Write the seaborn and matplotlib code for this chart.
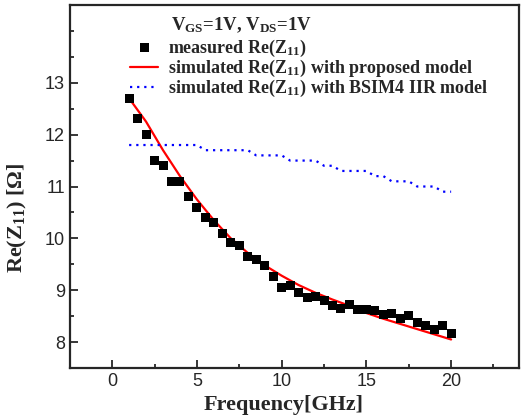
import numpy as np
import pandas as pd
import matplotlib
matplotlib.use('Agg')
import matplotlib.pyplot as plt
import seaborn as sns
from matplotlib.ticker import MultipleLocator

# 측정 데이터 (0.5 GHz 간격)
freq_meas = [1, 1.5, 2, 2.5, 3, 3.5, 4, 4.5, 5, 5.5, 6, 6.5, 7, 7.5, 8, 8.5, 9, 9.5, 10,
             10.5, 11, 11.5, 12, 12.5, 13, 13.5, 14, 14.5, 15, 15.5, 16, 16.5, 17, 17.5,
             18, 18.5, 19, 19.5, 20]
re_meas = [12.69, 12.31, 12.0, 11.5, 11.4, 11.1, 11.1, 10.8, 10.6, 10.4, 10.3, 10.1, 9.92,
           9.87, 9.65, 9.6, 9.47, 9.27, 9.05, 9.1, 8.95, 8.85, 8.88, 8.8, 8.7, 8.64, 8.72,
           8.62, 8.62, 8.6, 8.54, 8.55, 8.45, 8.51, 8.37, 8.31, 8.25, 8.31, 8.16]

# 제안 모델 (1 GHz 간격)
freq_model = list(range(1, 21))
re_model = [12.7, 12.25, 11.7, 11.2, 10.75, 10.35, 10.0, 9.72, 9.48, 9.28, 9.1, 8.95,
            8.82, 8.7, 8.56, 8.45, 8.35, 8.25, 8.15, 8.05]

# BSIM4 IIR 모델
freq_bsim = freq_meas
re_bsim = [11.8] * 9 + [11.7] * 6 + [11.6] * 4 + [11.5] * 4 + [11.4] * 2 + [11.3] * 4 \
          + [11.2] * 2 + [11.1] * 3 + [11.0] * 3 + [10.9] * 2

meas_df = pd.DataFrame({'freq': freq_meas, 're': re_meas})
model_df = pd.DataFrame({'freq': freq_model, 're': re_model})
bsim_df = pd.DataFrame({'freq': freq_bsim, 're': re_bsim})

sns.set_style('ticks')
plt.rcParams['font.family'] = ['Liberation Sans', 'DejaVu Sans']
plt.rcParams['mathtext.fontset'] = 'custom'
plt.rcParams['mathtext.rm'] = 'Liberation Serif:bold'
plt.rcParams['mathtext.bf'] = 'Liberation Serif:bold'
plt.rcParams['mathtext.it'] = 'Liberation Serif:bold'

fig = plt.figure(figsize=(5.21, 4.17), dpi=100)
ax = fig.add_axes([0.134, 0.1175, 0.862, 0.8705])

sns.scatterplot(data=meas_df, x='freq', y='re', marker='s', s=42, color='black',
                edgecolor='none', ax=ax, label=r'measured Re(Z$_{11}$)', zorder=3)
sns.lineplot(data=model_df, x='freq', y='re', color='#ff0000', lw=1.6, ax=ax,
             label=r'simulated Re(Z$_{11}$) with proposed model')
sns.lineplot(data=bsim_df, x='freq', y='re', color='#0000ff', lw=1.6,
             linestyle=(0, (1, 2.2)), ax=ax,
             label=r'simulated Re(Z$_{11}$) with BSIM4 IIR model')

ax.set_xlim(-2.5, 24)
ax.set_ylim(7.5, 14.5)
ax.xaxis.set_major_locator(MultipleLocator(5))
ax.xaxis.set_minor_locator(MultipleLocator(2.5))
ax.yaxis.set_major_locator(MultipleLocator(1))
ax.yaxis.set_minor_locator(MultipleLocator(0.5))
ax.set_yticks([8, 9, 10, 11, 12, 13])
ax.tick_params(which='both', direction='in', top=False, right=False, labelsize=13, width=1.3)
ax.tick_params(which='major', length=6)
ax.tick_params(which='minor', length=3)
for sp in ax.spines.values():
    sp.set_linewidth(1.6)
    sp.set_visible(True)

ax.set_xlabel('Frequency[GHz]', family='Liberation Serif', fontweight='bold', fontsize=16)
ax.xaxis.set_label_coords(0.477, -0.075)
ax.set_ylabel(r'Re(Z$_{11}$) [Ω]', family='Liberation Serif', fontweight='bold', fontsize=16)
ax.yaxis.set_label_coords(-0.09, 0.415)

ax.text(0.2250, 0.943, r'V$_{\rm GS}$=1V, V$_{\rm DS}$=1V', transform=ax.transAxes,
        family='Liberation Serif', fontweight='bold', fontsize=13.5, va='center', ha='left')
leg = ax.legend(loc='upper left', bbox_to_anchor=(0.105, 0.945), frameon=False,
                prop={'family': 'Liberation Serif', 'weight': 'bold', 'size': 13},
                handlelength=1.6, handletextpad=0.5, labelspacing=-0.05, borderpad=0.2)

fig.savefig('out.png', dpi=100)
